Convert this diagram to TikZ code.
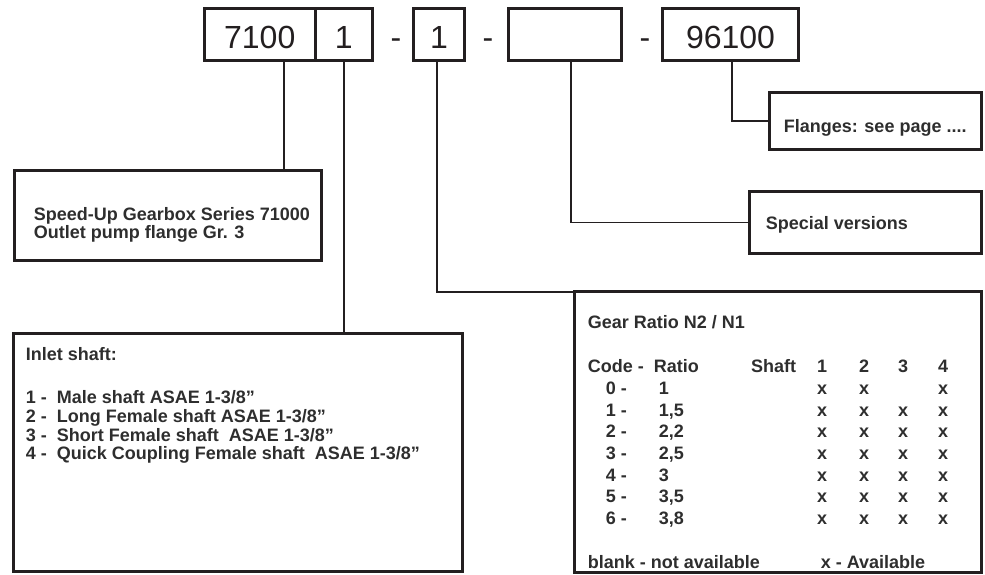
\documentclass[tikz,border=0pt]{standalone}
\usepackage{fontspec}
\setmainfont{Liberation Sans}
\usetikzlibrary{positioning, calc}
\definecolor{cink}{HTML}{231F20}
\definecolor{ctext}{HTML}{2E2E2E}
\tikzset{
  every picture/.style={line width=1.6pt},
  codebox/.style={draw=cink, line width=3pt, minimum height=52pt, inner sep=0pt, text height=27.5pt, text depth=0pt, text=cink, font=\fontsize{32}{32}\selectfont},
  infobox/.style={draw=cink, line width=3pt, inner sep=0pt},
  lead/.style={draw=cink, line width=1.6pt},
  hyph/.style={text=cink, inner sep=0pt, anchor=base, font=\fontsize{32}{32}\selectfont},
  txt/.style={text=ctext, inner sep=0pt, align=left, font=\fontsize{18}{18.6}\selectfont\bfseries},
}

\begin{document}
\begin{tikzpicture}[x=1pt, y=-1pt]
  \useasboundingbox (0,0) rectangle (985,575);
  % part number
  \node[codebox, minimum width=110.5pt] (series) at (259.75,34.5) {7100};
  \node[codebox, minimum width=57.5pt] (inshaft) at (343.75,34.5) {1};
  \node[hyph] (d1) at (396,48.3) {-};
  \node[codebox, minimum width=51pt] (ratiobox) at (439,34.5) {1};
  \node[hyph] (d2) at (488,48.3) {-};
  \node[codebox, minimum width=113pt] (extrabox) at (565,34.5) {};
  \node[hyph] (d3) at (645,48.3) {-};
  \node[codebox, minimum width=136pt] (flangebox) at (730.5,34.5) {96100};
  % description boxes
  \node[infobox, minimum width=307pt, minimum height=90pt] (seriesinfo) at (168,215.5) {};
  \node[infobox, minimum width=449pt, minimum height=238pt] (inletinfo) at (238,452.5) {};
  \node[infobox, minimum width=407pt, minimum height=281pt] (ratioinfo) at (778,432) {};
  \node[infobox, minimum width=212pt, minimum height=57pt] (flangeinfo) at (875.5,121) {};
  \node[infobox, minimum width=232pt, minimum height=62pt] (extrainfo) at (865.5,222.5) {};
  % leaders
  \draw[lead] ([xshift=24.5pt]series.south) -- ([xshift=24.5pt]series.south |- seriesinfo.north);
  \draw[lead] (inshaft.south) -- (inshaft.south |- inletinfo.north);
  \draw[lead] ([xshift=-2pt]ratiobox.south) |- ([yshift=-2pt]ratioinfo.north west);
  \draw[lead] ([xshift=6pt]extrabox.south) |- (extrainfo.west);
  \draw[lead] ([xshift=1.5pt]flangebox.south) |- (flangeinfo.west);
  % texts
  \node[txt, anchor=north west] (seriestxt) at (33,206.5) {Speed-Up Gearbox Series 71000\\Outlet pump flange Gr. 3};
  \node[txt, anchor=north west] (inlettxt) at (25,346.4) {Inlet shaft:\\[25pt]
    1 -\ \ Male shaft ASAE 1-3/8”\\
    2 -\ \ Long Female shaft ASAE 1-3/8”\\
    3 -\ \ Short Female shaft\ \ ASAE 1-3/8”\\
    4 -\ \ Quick Coupling Female shaft\ \ ASAE 1-3/8”};
  \node[txt, anchor=base west] (flangetxt) at (783,132.5) {Flanges: see page ....};
  \node[txt, anchor=base west] (extratxt) at (765,229.5) {Special versions};
  % gear ratio table
  \node[txt, anchor=base west] (gtitle) at (587,328.5) {Gear Ratio N2 / N1};
  \node[txt, anchor=base west] (hcode) at (587,372.5) {Code -};
  \node[txt, anchor=base west] (hratio) at (653,372.5) {Ratio};
  \node[txt, anchor=base east] (hshaft) at (797,372.5) {Shaft};
  \foreach \col/\x in {1/822, 2/864, 3/903, 4/943}
    \node[txt, anchor=base] (h\col) at (\x,372.5) {\col};
  \foreach \r [count=\k from 0] in {1, {1,5}, {2,2}, {2,5}, 3, {3,5}, {3,8}} {
    \node[txt, anchor=base west] (code\k) at (605,394.5+21.67*\k) {\k\ -};
    \node[txt, anchor=base west] (val\k) at (658,394.5+21.67*\k) {\r};
  }
  \foreach \col/\x in {1/822, 2/864, 4/943}
    \node[txt, anchor=base] (m0\col) at (\x,394.5) {x};
  \foreach \k in {1,...,6}
    \foreach \col/\x in {1/822, 2/864, 3/903, 4/943}
      \node[txt, anchor=base] (m\k\col) at (\x,394.5+21.67*\k) {x};
  \node[txt, anchor=base west] (blank) at (587,568.5) {blank - not available};
  \node[txt, anchor=base west] (avail) at (820,568.5) {x - Available};
\end{tikzpicture}
\end{document}
